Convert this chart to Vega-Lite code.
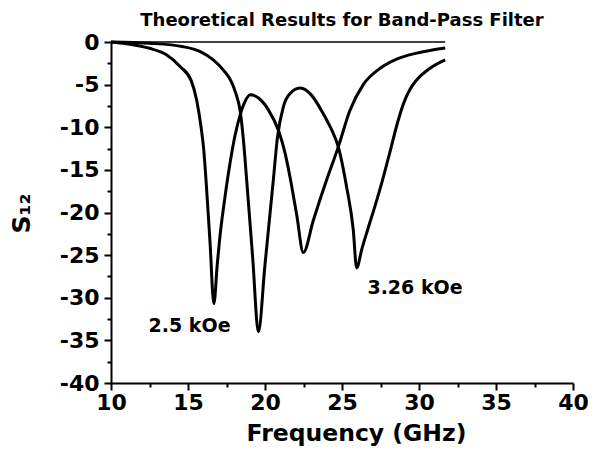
{
  "$schema": "https://vega.github.io/schema/vega-lite/v6.json",
  "width": 462,
  "height": 341,
  "autosize": "none",
  "padding": {"left": 111, "top": 42, "right": 27, "bottom": 68},
  "background": "white",
  "title": {"text": "Theoretical Results for Band-Pass Filter", "font": "DejaVu Sans", "fontSize": 18, "fontWeight": "bold", "color": "black", "anchor": "middle", "offset": 1},
  "config": {
    "view": {"stroke": null},
    "axis": {"labelFont": "DejaVu Sans", "labelFontWeight": "bold", "labelFontSize": 22, "labelColor": "black", "titleFont": "DejaVu Sans", "titleColor": "black", "titleFontWeight": "bold", "domainColor": "black", "domainWidth": 2, "tickColor": "black", "tickWidth": 2, "grid": false}
  },
  "datasets": {
    "curves": [
      {"series": "2.5 kOe", "f": 10, "s": 0},
      {"series": "2.5 kOe", "f": 11, "s": -0.2},
      {"series": "2.5 kOe", "f": 11.5, "s": -0.35},
      {"series": "2.5 kOe", "f": 12.5, "s": -0.74},
      {"series": "2.5 kOe", "f": 13.6, "s": -1.5},
      {"series": "2.5 kOe", "f": 14.5, "s": -2.9},
      {"series": "2.5 kOe", "f": 15.2, "s": -4.5},
      {"series": "2.5 kOe", "f": 15.56, "s": -6.8},
      {"series": "2.5 kOe", "f": 15.85, "s": -10},
      {"series": "2.5 kOe", "f": 16.02, "s": -12.6},
      {"series": "2.5 kOe", "f": 16.17, "s": -16.2},
      {"series": "2.5 kOe", "f": 16.43, "s": -23.5},
      {"series": "2.5 kOe", "f": 16.68, "s": -30.7},
      {"series": "2.5 kOe", "f": 16.9, "s": -26.1},
      {"series": "2.5 kOe", "f": 17.1, "s": -22.4},
      {"series": "2.5 kOe", "f": 17.4, "s": -18.2},
      {"series": "2.5 kOe", "f": 17.73, "s": -14.2},
      {"series": "2.5 kOe", "f": 18.05, "s": -11.0},
      {"series": "2.5 kOe", "f": 18.38, "s": -8.6},
      {"series": "2.5 kOe", "f": 18.7, "s": -7.0},
      {"series": "2.5 kOe", "f": 19.05, "s": -6.2},
      {"series": "2.5 kOe", "f": 19.6, "s": -6.6},
      {"series": "2.5 kOe", "f": 20.2, "s": -7.9},
      {"series": "2.5 kOe", "f": 20.9, "s": -10.5},
      {"series": "2.5 kOe", "f": 21.3, "s": -13},
      {"series": "2.5 kOe", "f": 21.62, "s": -15.8},
      {"series": "2.5 kOe", "f": 22.06, "s": -20.3},
      {"series": "2.5 kOe", "f": 22.49, "s": -24.7},
      {"series": "2.5 kOe", "f": 23.14, "s": -20.9},
      {"series": "2.5 kOe", "f": 24.0, "s": -16.2},
      {"series": "2.5 kOe", "f": 24.76, "s": -12.3},
      {"series": "2.5 kOe", "f": 25.5, "s": -8.1},
      {"series": "2.5 kOe", "f": 26.38, "s": -5.0},
      {"series": "2.5 kOe", "f": 27.5, "s": -3.05},
      {"series": "2.5 kOe", "f": 28.55, "s": -2.0},
      {"series": "2.5 kOe", "f": 29.85, "s": -1.3},
      {"series": "2.5 kOe", "f": 31.7, "s": -0.7},
      {"series": "3.26 kOe", "f": 10, "s": 0},
      {"series": "3.26 kOe", "f": 12.5, "s": -0.15},
      {"series": "3.26 kOe", "f": 14.7, "s": -0.55},
      {"series": "3.26 kOe", "f": 15.8, "s": -1.13},
      {"series": "3.26 kOe", "f": 16.64, "s": -2.1},
      {"series": "3.26 kOe", "f": 17.3, "s": -3.3},
      {"series": "3.26 kOe", "f": 17.83, "s": -4.7},
      {"series": "3.26 kOe", "f": 18.1, "s": -6},
      {"series": "3.26 kOe", "f": 18.38, "s": -8.0},
      {"series": "3.26 kOe", "f": 18.6, "s": -11.5},
      {"series": "3.26 kOe", "f": 18.81, "s": -16.2},
      {"series": "3.26 kOe", "f": 19.2, "s": -25.3},
      {"series": "3.26 kOe", "f": 19.57, "s": -34},
      {"series": "3.26 kOe", "f": 20.0, "s": -26.1},
      {"series": "3.26 kOe", "f": 20.3, "s": -20.6},
      {"series": "3.26 kOe", "f": 20.54, "s": -16.2},
      {"series": "3.26 kOe", "f": 20.8, "s": -11.3},
      {"series": "3.26 kOe", "f": 21.19, "s": -7.6},
      {"series": "3.26 kOe", "f": 21.6, "s": -6.1},
      {"series": "3.26 kOe", "f": 22.3, "s": -5.4},
      {"series": "3.26 kOe", "f": 23.0, "s": -6.2},
      {"series": "3.26 kOe", "f": 23.78, "s": -8.4},
      {"series": "3.26 kOe", "f": 24.3, "s": -10.2},
      {"series": "3.26 kOe", "f": 24.76, "s": -12.3},
      {"series": "3.26 kOe", "f": 25.3, "s": -17},
      {"series": "3.26 kOe", "f": 25.73, "s": -22},
      {"series": "3.26 kOe", "f": 25.95, "s": -26.5},
      {"series": "3.26 kOe", "f": 26.3, "s": -24.2},
      {"series": "3.26 kOe", "f": 26.67, "s": -22},
      {"series": "3.26 kOe", "f": 27.2, "s": -18.9},
      {"series": "3.26 kOe", "f": 27.6, "s": -16.4},
      {"series": "3.26 kOe", "f": 28.1, "s": -13.0},
      {"series": "3.26 kOe", "f": 28.6, "s": -9.5},
      {"series": "3.26 kOe", "f": 29.0, "s": -7.2},
      {"series": "3.26 kOe", "f": 29.4, "s": -5.6},
      {"series": "3.26 kOe", "f": 29.85, "s": -4.45},
      {"series": "3.26 kOe", "f": 30.7, "s": -3.1},
      {"series": "3.26 kOe", "f": 31.7, "s": -2.1}
    ],
    "baseline": [
      {"f": 10, "s": 0},
      {"f": 31.7, "s": 0}
    ],
    "labels": [
      {"f": 15.1, "s": -33.3, "text": "2.5 kOe"},
      {"f": 29.74, "s": -28.8, "text": "3.26 kOe"}
    ]
  },
  "layer": [
    {
      "data": {"name": "curves"},
      "mark": {"type": "line", "color": "black", "strokeWidth": 3, "interpolate": "monotone"},
      "encoding": {
        "x": {"field": "f", "type": "quantitative", "scale": {"domain": [10, 40], "nice": false, "zero": false},
          "axis": {"values": [10, 15, 20, 25, 30, 35, 40], "labelExpr": "toString(datum.value)", "title": "Frequency (GHz)", "titleFontSize": 23.5, "titleX": 245, "titleY": 57, "titleBaseline": "alphabetic", "tickSize": 7, "labelPadding": 2, "labelFlush": false}},
        "y": {"field": "s", "type": "quantitative", "scale": {"domain": [-40, 0], "nice": false, "zero": false},
          "axis": {"values": [-40, -35, -30, -25, -20, -15, -10, -5, 0], "labelExpr": "toString(datum.value)", "title": "S₁₂", "titleFontSize": 25, "titleX": -82, "titleY": 171, "titleBaseline": "alphabetic", "tickSize": 7, "labelPadding": 5}},
        "detail": {"field": "series", "type": "nominal"}
      }
    },
    {
      "data": {"name": "baseline"},
      "mark": {"type": "line", "color": "black", "strokeWidth": 1.5},
      "encoding": {
        "x": {"field": "f", "type": "quantitative", "axis": {"orient": "bottom", "values": [12.5, 17.5, 22.5, 27.5, 32.5, 37.5], "labels": false, "domain": false, "tickSize": 4, "title": null}},
        "y": {"field": "s", "type": "quantitative", "axis": {"orient": "left", "values": [-37.5, -32.5, -27.5, -22.5, -17.5, -12.5, -7.5, -2.5], "labels": false, "domain": false, "tickSize": 4, "title": null}}
      }
    },
    {
      "data": {"name": "labels"},
      "mark": {"type": "text", "font": "DejaVu Sans", "fontSize": 19, "fontWeight": "bold", "color": "black", "align": "center", "baseline": "middle"},
      "encoding": {
        "x": {"field": "f", "type": "quantitative", "axis": null},
        "y": {"field": "s", "type": "quantitative", "axis": null},
        "text": {"field": "text", "type": "nominal"}
      }
    }
  ],
  "resolve": {"axis": {"x": "independent", "y": "independent"}}
}
